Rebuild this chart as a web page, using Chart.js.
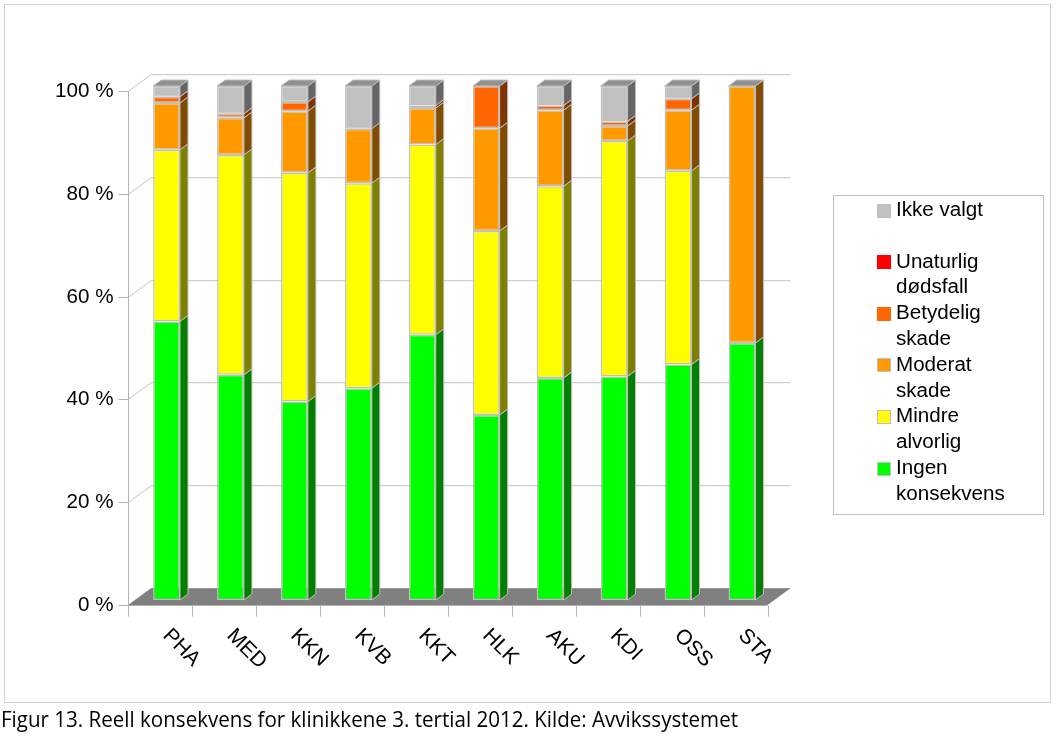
<!DOCTYPE html>
<html>
<head>
<meta charset="utf-8">
<title>Reell konsekvens for klinikkene</title>
<script src="https://cdn.jsdelivr.net/npm/chart.js@4.4.0/dist/chart.umd.min.js"></script>
<style>
  html, body { margin: 0; padding: 0; background: #fff; }
  #wrap { width: 1056px; height: 740px; }
</style>
</head>
<body>
<div id="wrap"><canvas id="konsekvensChart" width="1056" height="740"></canvas></div>
<script>
// Clinics and share of deviations per consequence level (percent)
const clinics = ['PHA', 'MED', 'KKN', 'KVB', 'KKT', 'HLK', 'AKU', 'KDI', 'OSS', 'STA'];

const ingenKonsekvens   = [54.2, 43.8, 38.6, 41.2, 51.6, 36.0, 43.2, 43.5, 45.8, 50.0];
const mindreAlvorlig    = [33.4, 42.8, 44.5, 39.9, 37.0, 35.8, 37.3, 45.8, 37.7, 0];
const moderatSkade      = [9.1, 7.2, 12.0, 10.6, 7.1, 20.0, 14.8, 2.9, 11.8, 50.0];
const betydeligSkade    = [1.2, 0.8, 1.8, 0, 0.5, 8.2, 0.9, 0.9, 2.2, 0];
const unaturligDodsfall = [0, 0, 0, 0, 0, 0, 0, 0, 0, 0];
const ikkeValgt         = [2.1, 5.4, 3.1, 8.3, 3.8, 0, 3.8, 6.9, 2.5, 0];

const seriesLabels = [
  ['Ingen', 'konsekvens'],
  ['Mindre', 'alvorlig'],
  ['Moderat', 'skade'],
  ['Betydelig', 'skade'],
  ['Unaturlig', 'dødsfall'],
  ['Ikke valgt']
];

const yTicks = [0, 20, 40, 60, 80, 100];
const caption = 'Figur 13. Reell konsekvens for klinikkene 3. tertial 2012. Kilde: Avvikssystemet';

// face colours: front / side, plus whether the legend swatch gets an outline
const palette = [
  { front: '#00ff00', side: '#008000', outline: true },
  { front: '#ffff00', side: '#808000', outline: true },
  { front: '#ff9900', side: '#804c00', outline: true },
  { front: '#ff6600', side: '#803300', outline: false },
  { front: '#ff0000', side: '#800000', outline: false },
  { front: '#c0c0c0', side: '#666666', outline: false }
];

// pseudo 3D offsets relative to the bar front plane
const FRONT_DX = -6.5, FRONT_DY = 5;     // front edge of floor / axis
const BACK_DX = 16.5, BACK_DY = -11.8;   // back wall
const BAR_DX = 8, BAR_DY = 6;            // bar depth
const TOP_COLOR = '#909090';
const EDGE = '#c0c0c0';
const GRID = '#c4c4c4';
const AXIS = '#b3b3b3';
const TEXT_STRETCH = 1.03;
const FONT = '20px "Liberation Sans", Arial, sans-serif';
const CAT_FONT = '21px "Liberation Sans", Arial, sans-serif';

const seriesData = [ingenKonsekvens, mindreAlvorlig, moderatSkade, betydeligSkade, unaturligDodsfall, ikkeValgt];

function stretchedText(ctx, text, x, y, align) {
  ctx.save();
  ctx.translate(x, y);
  ctx.scale(TEXT_STRETCH, 1);
  ctx.textAlign = align;
  ctx.fillText(text, 0, 0);
  ctx.restore();
}

function poly(ctx, pts, fill, stroke) {
  ctx.beginPath();
  ctx.moveTo(pts[0][0], pts[0][1]);
  for (let i = 1; i < pts.length; i++) ctx.lineTo(pts[i][0], pts[i][1]);
  ctx.closePath();
  if (fill) { ctx.fillStyle = fill; ctx.fill(); }
  if (stroke) { ctx.strokeStyle = stroke; ctx.stroke(); }
}

const scenePlugin = {
  id: 'scene3d',
  beforeDatasetsDraw(chart) {
    const { ctx, chartArea: a, scales } = chart;
    const y = scales.y, x = scales.x;
    ctx.save();
    ctx.lineWidth = 1;

    // back wall gridlines and the left wall diagonals
    yTicks.forEach(v => {
      const py = Math.round(y.getPixelForValue(v)) + 0.5;
      ctx.strokeStyle = GRID;
      ctx.beginPath();
      ctx.moveTo(a.left + FRONT_DX, py + FRONT_DY);
      ctx.lineTo(a.left + BACK_DX, py + BACK_DY);
      ctx.lineTo(a.right + BACK_DX, py + BACK_DY);
      ctx.stroke();
    });

    // floor
    const fb = y.getPixelForValue(0);
    poly(ctx, [
      [a.left + FRONT_DX, fb + FRONT_DY],
      [a.right + FRONT_DX, fb + FRONT_DY],
      [a.right + BACK_DX, fb + BACK_DY],
      [a.left + BACK_DX, fb + BACK_DY]
    ], '#808080', null);

    // value axis with ticks
    const ax = Math.round(a.left + FRONT_DX) + 0.5;
    ctx.strokeStyle = AXIS;
    ctx.beginPath();
    ctx.moveTo(ax, y.getPixelForValue(100) + FRONT_DY);
    ctx.lineTo(ax, fb + FRONT_DY + 11);
    ctx.stroke();
    ctx.font = FONT;
    ctx.fillStyle = '#000';
    ctx.textBaseline = 'middle';
    yTicks.forEach(v => {
      const py = Math.round(y.getPixelForValue(v) + FRONT_DY) + 0.5;
      ctx.beginPath();
      ctx.moveTo(ax - 10, py);
      ctx.lineTo(ax, py);
      ctx.stroke();
      stretchedText(ctx, v + ' %', ax - 15, py, 'right');
    });

    // category axis along the front edge of the floor
    const fy = Math.round(fb + FRONT_DY) + 0.5;
    ctx.beginPath();
    ctx.moveTo(a.left + FRONT_DX, fy);
    ctx.lineTo(a.right + FRONT_DX, fy);
    ctx.stroke();
    const step = (a.right - a.left) / clinics.length;
    for (let i = 0; i <= clinics.length; i++) {
      const px = Math.round(a.left + FRONT_DX + i * step) + 0.5;
      ctx.beginPath();
      ctx.moveTo(px, fy);
      ctx.lineTo(px, fy + 11);
      ctx.stroke();
    }
    ctx.font = CAT_FONT;
    clinics.forEach((c, i) => {
      const cx = x.getPixelForValue(i) + FRONT_DX;
      ctx.save();
      ctx.translate(cx + 6, fy + 27);
      ctx.rotate(Math.PI / 4);
      ctx.textAlign = 'left';
      ctx.fillText(c, 0, 0);
      ctx.restore();
    });
    ctx.restore();
  },
  afterDatasetsDraw(chart) {
    const { ctx } = chart;
    ctx.save();
    ctx.lineWidth = 1;
    ctx.lineJoin = 'round';
    const topSeg = [];
    chart.data.datasets.forEach((ds, di) => {
      const meta = chart.getDatasetMeta(di);
      meta.data.forEach((bar, i) => {
        if (!(ds.data[i] > 0)) return;
        const r = bar.x + bar.width / 2;
        poly(ctx, [
          [r, bar.y],
          [r + BAR_DX, bar.y - BAR_DY],
          [r + BAR_DX, bar.base - BAR_DY],
          [r, bar.base]
        ], palette[di].side, EDGE);
        topSeg[i] = bar;
      });
    });
    topSeg.forEach(bar => {
      const l = bar.x - bar.width / 2, r = bar.x + bar.width / 2;
      poly(ctx, [
        [l, bar.y],
        [r, bar.y],
        [r + BAR_DX, bar.y - BAR_DY],
        [l + BAR_DX, bar.y - BAR_DY]
      ], TOP_COLOR, EDGE);
    });
    ctx.restore();
  },
  afterDraw(chart) {
    const { ctx } = chart;
    ctx.save();
    ctx.lineWidth = 1;

    // outer frame
    ctx.strokeStyle = '#d4d4d4';
    ctx.strokeRect(4.5, 4.5, 1046, 698);

    // legend, top entry is the last series
    ctx.strokeStyle = EDGE;
    ctx.strokeRect(833.5, 195.5, 210, 319);
    ctx.font = FONT;
    ctx.textBaseline = 'middle';
    const lineH = 25.8;
    for (let k = 0; k < seriesLabels.length; k++) {
      const si = seriesLabels.length - 1 - k;
      const y0 = 210.5 + k * lineH * 2;
      ctx.fillStyle = palette[si].front;
      ctx.fillRect(877, Math.round(y0 - 7), 14, 14);
      if (palette[si].outline) {
        ctx.strokeStyle = EDGE;
        ctx.strokeRect(877.5, Math.round(y0 - 7) + 0.5, 13, 13);
      }
      ctx.fillStyle = '#000';
      seriesLabels[si].forEach((t, li) => stretchedText(ctx, t, 896, y0 + li * lineH, 'left'));
    }

    // caption below the frame
    ctx.font = '22px "Open Sans", sans-serif';
    const w = ctx.measureText(caption).width;
    ctx.save();
    ctx.translate(1, 721);
    ctx.scale(737 / w, 1);
    ctx.textAlign = 'left';
    ctx.fillText(caption, 0, 0);
    ctx.restore();
    ctx.restore();
  }
};

new Chart(document.getElementById('konsekvensChart').getContext('2d'), {
  type: 'bar',
  data: {
    labels: clinics,
    datasets: seriesData.map((vals, i) => ({
      label: seriesLabels[i].join(' '),
      data: vals,
      backgroundColor: palette[i].front,
      borderColor: EDGE,
      borderWidth: vals.map(v => (v > 0 ? 1.5 : 0)),
      borderSkipped: false,
      barPercentage: 0.42,
      categoryPercentage: 1,
      clip: false
    }))
  },
  options: {
    responsive: false,
    animation: false,
    layout: { padding: { left: 134.6, right: 282, top: 86, bottom: 140 } },
    plugins: { legend: { display: false }, tooltip: { enabled: false } },
    scales: {
      x: { stacked: true, display: false },
      y: { stacked: true, display: false, min: 0, max: 100 }
    }
  },
  plugins: [scenePlugin]
});
</script>
</body>
</html>
